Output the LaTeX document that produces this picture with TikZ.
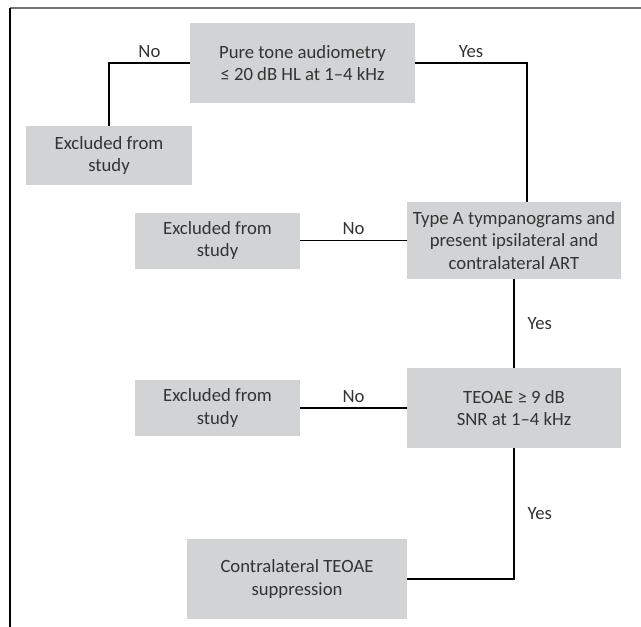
\documentclass[tikz,border=0pt]{standalone}
\usepackage{fontspec}
\setmainfont{Carlito}
\usepackage{tikz}
\usetikzlibrary{arrows.meta}
\definecolor{boxgray}{HTML}{D1D3D4}
\definecolor{inkgray}{HTML}{333333}
\tikzset{
  stage/.style={rectangle, fill=boxgray, text=inkgray, align=center, inner sep=0pt,
                font=\fontsize{18.7}{22.5}\selectfont},
  answer/.style={text=inkgray, inner sep=5pt, font=\fontsize{18.7}{22.5}\selectfont},
  link/.style={draw=black, line width=1.3pt}
}

\begin{document}
\begin{tikzpicture}[>=Latex, x=1pt, y=-1pt]
        \useasboundingbox (0,0) rectangle (641,627);

        % --- Frame (top and left edges only)
        \draw[line width=2pt, black!55] (10,7.5) -- (641,7.5);
        \draw[line width=1.8pt, black] (10,7.5) -- (10,627);

        % --- Stages
        \node[stage, minimum width=225pt, minimum height=80pt] (pta) at (302.5,63)
             {Pure tone audiometry\\≤ 20 dB HL at 1–4 kHz};
        \node[stage, minimum width=166pt, minimum height=59pt] (excl1) at (109,155.5)
             {Excluded from\\study};
        \node[stage, minimum width=214pt, minimum height=77pt] (tymp) at (514,240.5)
             {Type A tympanograms and\\present ipsilateral and\\contralateral ART};
        \node[stage, minimum width=165pt, minimum height=56pt] (excl2) at (217.5,240.5)
             {Excluded from\\study};
        \node[stage, minimum width=214pt, minimum height=80pt] (teoae) at (514,408)
             {TEOAE ≥ 9 dB\\SNR at 1–4 kHz};
        \node[stage, minimum width=165pt, minimum height=56pt] (excl3) at (217.5,408)
             {Excluded from\\study};
        \node[stage, minimum width=220pt, minimum height=80pt] (supp) at (297,579)
             {Contralateral TEOAE\\suppression};

        % --- Audiometry outcomes
        \draw[link] (pta.west) -| node[answer, pos=0.25, above] {No} (excl1.north);
        \draw[link] (pta.east) -| node[answer, pos=0.25, above] {Yes} ([xshift=13pt]tymp.north);

        % --- Tympanometry outcomes
        \draw[link] (tymp.west) -- node[answer, above] {No} (excl2.east);
        \draw[link] (tymp.south) -- node[answer, right=8pt] {Yes} (teoae.north);

        % --- TEOAE outcomes
        \draw[link] (teoae.west) -- node[answer, above] {No} (excl3.east);
        \draw[link] (teoae.south) |- node[answer, pos=0.25, right=8pt] {Yes} (supp.east);

        \end{tikzpicture}
\end{document}
